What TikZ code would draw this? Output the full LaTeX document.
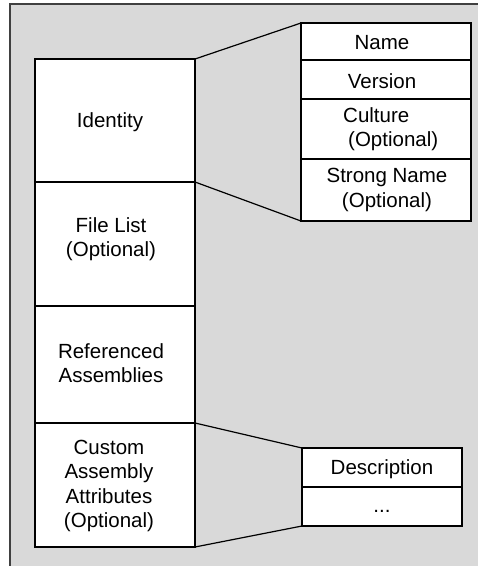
\documentclass[tikz,border=0pt]{standalone}
\usepackage{fontspec}
\setmainfont{Liberation Sans}
\definecolor{bgfill}{HTML}{D9D9D9}
\definecolor{bgline}{HTML}{404040}
\begin{document}
\begin{tikzpicture}[x=1pt,y=-1pt,
  box/.style={draw=black,line width=1.2pt,fill=white,inner sep=0pt,outer sep=0pt,anchor=north west},
  lbl/.style={font=\fontsize{20.5}{24.5}\selectfont,align=center,inner sep=0pt},
  conn/.style={draw=black,line width=1.2pt}]
\useasboundingbox (0,0) rectangle (478,566);
\begin{scope}
\clip (0,0) rectangle (478,566);
\fill[bgfill] (10,4) rectangle (490,580);
\draw[bgline,line width=1.1pt] (10,580) -- (10,4) -- (490,4);
\end{scope}
% left column
\node[box,minimum width=160pt,minimum height=123pt] (id) at (35,59) {};
\node[box,minimum width=160pt,minimum height=124pt] (fl) at (35,182) {};
\node[box,minimum width=160pt,minimum height=117pt] (ra) at (35,306) {};
\node[box,minimum width=160pt,minimum height=124pt] (ca) at (35,423) {};
% right top column
\node[box,minimum width=170pt,minimum height=37pt] (nm) at (301,23) {};
\node[box,minimum width=170pt,minimum height=39pt] (ver) at (301,60) {};
\node[box,minimum width=170pt,minimum height=60pt] (cul) at (301,99) {};
\node[box,minimum width=170pt,minimum height=62pt] (sn) at (301,159) {};
% right bottom column
\node[box,minimum width=160pt,minimum height=39pt] (desc) at (302,448) {};
\node[box,minimum width=160pt,minimum height=39pt] (dots) at (302,487) {};
% labels
\node[lbl,anchor=base] (tid) at (110,127) {Identity};
\node[lbl] (tfl) at (111,239) {File List\\(Optional)};
\node[lbl] (tra) at (111,363) {Referenced\\Assemblies};
\node[lbl] (tca) at (109,486) {Custom\\Assembly\\Attributes\\(Optional)};
\node[lbl,anchor=base] (tnm) at (382,49) {Name};
\node[lbl,anchor=base] (tver) at (382,88) {Version};
\node[lbl,align=left,anchor=west] (tcul) at (343,129) {Culture\\\hspace{5pt}(Optional)};
\node[lbl] (tsn) at (387,190) {Strong Name\\(Optional)};
\node[lbl,anchor=base] (tdesc) at (382,474) {Description};
\node[lbl,anchor=base] (tdots) at (382,512) {...};
% connectors
\draw[conn] (id.north east) -- (nm.north west);
\draw[conn] (id.south east) -- (sn.south west);
\draw[conn] (ca.north east) -- (desc.north west);
\draw[conn] (ca.south east) -- (dots.south west);
\end{tikzpicture}
\end{document}
